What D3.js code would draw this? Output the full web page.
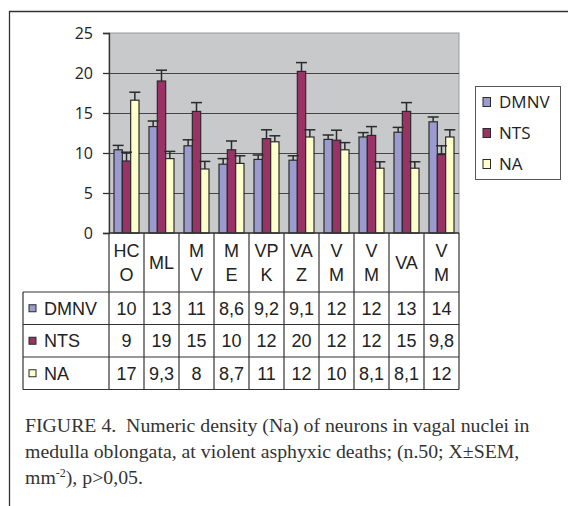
<!DOCTYPE html>
<html>
<head>
<meta charset="utf-8">
<script src="https://cdn.jsdelivr.net/npm/d3@7"></script>
<style>
  body { margin: 0; background: #fff; }
  svg { display: block; }
</style>
</head>
<body>
<svg id="chart" width="568" height="506"></svg>
<script>
// categories as printed in the table header (wrapped like the original)
var categories = ["HC\nO", "ML", "M\nV", "M\nE", "VP\nK", "VA\nZ", "V\nM", "V\nM", "VA", "V\nM"];
var seriesNames = ["DMNV", "NTS", "NA"];
var seriesColors = ["#9b9bd0", "#993366", "#ffffcc"];

// means
var dmnv = [10.4, 13.3, 10.9, 8.6, 9.2, 9.1, 11.7, 12.0, 12.6, 13.9];
var nts  = [9.0, 19.0, 15.2, 10.4, 11.8, 20.2, 11.6, 12.2, 15.2, 9.8];
var na   = [16.6, 9.3, 8.0, 8.7, 11.4, 12.0, 10.4, 8.1, 8.1, 12.0];

// SEM
var dmnvErr = [0.55, 0.7, 0.75, 0.7, 0.55, 0.55, 0.55, 0.55, 0.6, 0.6];
var ntsErr  = [1.1, 1.35, 1.1, 1.1, 1.1, 1.1, 1.25, 1.1, 1.1, 1.1];
var naErr   = [1.0, 0.9, 0.95, 0.95, 0.75, 0.9, 0.9, 0.8, 0.8, 0.9];

var yTicks = [0, 5, 10, 15, 20, 25];

var captionLines = [
  "FIGURE 4.  Numeric density (Na) of neurons in vagal nuclei in",
  "medulla oblongata, at violent asphyxic deaths; (n.50; X\u00b1SEM,"
];

var values = [dmnv, nts, na];
var errors = [dmnvErr, ntsErr, naErr];

var svg = d3.select("#chart");
var plot = { left: 109, right: 459, top: 33, bottom: 233 };

var x = d3.scaleBand()
  .domain(d3.range(categories.length))
  .range([plot.left, plot.right]);

var xSub = d3.scaleBand()
  .domain(d3.range(seriesNames.length))
  .range([0, x.bandwidth()])
  .paddingOuter(0.6);

var y = d3.scaleLinear()
  .domain([0, 25])
  .range([plot.bottom, plot.top]);

var fmt = d3.format(".2~r");
function label(v) { return fmt(v).replace(".", ","); }

// outer frame
svg.append("path")
  .attr("d", "M9.5,506 L9.5,11.5 L568,11.5")
  .attr("fill", "none")
  .attr("stroke", "#333")
  .attr("stroke-width", 1.3);

// plot background
svg.append("rect")
  .attr("x", plot.left).attr("y", plot.top)
  .attr("width", plot.right - plot.left)
  .attr("height", plot.bottom - plot.top)
  .attr("fill", "#c8c9cb")
  .attr("stroke", "#9a9a9a");

// gridlines
svg.append("g")
  .attr("transform", "translate(" + plot.left + ",0)")
  .call(d3.axisLeft(y).tickValues(yTicks.slice(1, -1)).tickSize(-(plot.right - plot.left)).tickFormat(""))
  .call(function(g) {
    g.select(".domain").remove();
    g.selectAll("line").attr("stroke", "#444").attr("stroke-width", 1.2);
  });

// y axis
svg.append("g")
  .attr("transform", "translate(" + plot.left + ",0)")
  .call(d3.axisLeft(y).tickValues(yTicks).tickSize(6).tickPadding(10))
  .call(function(g) {
    g.select(".domain").attr("stroke", "#333").attr("stroke-width", 1.3);
    g.selectAll("line").attr("stroke", "#333").attr("stroke-width", 1.3);
    g.selectAll("text")
      .attr("fill", "#222")
      .style("font-family", "'Open Sans', sans-serif")
      .style("font-size", "16px");
  });

// bars
var groups = svg.append("g").selectAll("g")
  .data(d3.range(categories.length))
  .join("g")
  .attr("transform", function(i) { return "translate(" + x(i) + ",0)"; });

function cells(i) {
  return seriesNames.map(function(s, k) { return { k: k, v: values[k][i], e: errors[k][i] }; });
}

groups.selectAll("rect")
  .data(cells)
  .join("rect")
  .attr("x", function(d) { return xSub(d.k); })
  .attr("y", function(d) { return y(d.v); })
  .attr("width", xSub.bandwidth())
  .attr("height", function(d) { return y(0) - y(d.v); })
  .attr("fill", function(d) { return seriesColors[d.k]; })
  .attr("stroke", "#2a2a2a")
  .attr("stroke-width", 1.2);

// error bars (upper half only)
var errG = groups.selectAll("g.err")
  .data(cells)
  .join("g")
  .attr("class", "err");

errG.append("line")
  .attr("x1", function(d) { return xSub(d.k) + xSub.bandwidth() / 2; })
  .attr("x2", function(d) { return xSub(d.k) + xSub.bandwidth() / 2; })
  .attr("y1", function(d) { return y(d.v); })
  .attr("y2", function(d) { return y(d.v + d.e); });

errG.append("line")
  .attr("x1", function(d) { return xSub(d.k) + xSub.bandwidth() / 2 - 5.5; })
  .attr("x2", function(d) { return xSub(d.k) + xSub.bandwidth() / 2 + 5.5; })
  .attr("y1", function(d) { return y(d.v + d.e); })
  .attr("y2", function(d) { return y(d.v + d.e); });

errG.selectAll("line").attr("stroke", "#2a2a2a").attr("stroke-width", 1.5);

// x axis line
svg.append("line")
  .attr("x1", plot.left).attr("x2", plot.right)
  .attr("y1", plot.bottom).attr("y2", plot.bottom)
  .attr("stroke", "#333").attr("stroke-width", 1.3);

// data table
var tbl = { left: 23, headBottom: 292, rowH: 32.5 };
var tg = svg.append("g").attr("stroke", "#333").attr("stroke-width", 1.2);

x.domain().concat([categories.length]).forEach(function(i) {
  var xx = i < categories.length ? x(i) : plot.right;
  tg.append("line")
    .attr("x1", xx).attr("x2", xx)
    .attr("y1", plot.bottom).attr("y2", tbl.headBottom + tbl.rowH * 3);
});
tg.append("line")
  .attr("x1", tbl.left).attr("x2", tbl.left)
  .attr("y1", tbl.headBottom).attr("y2", tbl.headBottom + tbl.rowH * 3);
d3.range(4).forEach(function(r) {
  var yy = tbl.headBottom + tbl.rowH * r;
  tg.append("line")
    .attr("x1", tbl.left).attr("x2", plot.right)
    .attr("y1", yy).attr("y2", yy);
});

var tableFont = "'Liberation Sans', Arial, sans-serif";

// header labels
svg.append("g").selectAll("text")
  .data(categories)
  .join("text")
  .attr("text-anchor", "middle")
  .attr("fill", "#222")
  .style("font-family", tableFont)
  .style("font-size", "18px")
  .each(function(c, i) {
    var lines = c.split("\n");
    var cy = (plot.bottom + tbl.headBottom) / 2;
    var t = d3.select(this);
    lines.forEach(function(l, j) {
      t.append("tspan")
        .attr("x", x(i) + x.bandwidth() / 2)
        .attr("y", cy + (j - (lines.length - 1) / 2) * 23.5)
        .attr("dy", "0.36em")
        .text(l);
    });
  });

// table rows
seriesNames.forEach(function(s, k) {
  var cy = tbl.headBottom + tbl.rowH * (k + 0.5);
  svg.append("rect")
    .attr("x", 29).attr("y", cy - 3.5)
    .attr("width", 7).attr("height", 7)
    .attr("fill", seriesColors[k])
    .attr("stroke", "#2a2a2a").attr("stroke-width", 1);
  svg.append("text")
    .attr("x", 44).attr("y", cy).attr("dy", "0.36em")
    .attr("fill", "#222")
    .style("font-family", tableFont)
    .style("font-size", "18px")
    .text(s);
  svg.append("g").selectAll("text")
    .data(values[k])
    .join("text")
    .attr("x", function(v, i) { return x(i) + x.bandwidth() / 2; })
    .attr("y", cy).attr("dy", "0.36em")
    .attr("text-anchor", "middle")
    .attr("fill", "#222")
    .style("font-family", tableFont)
    .style("font-size", "18px")
    .text(function(v) { return label(v); });
});

// legend
var lg = svg.append("g");
lg.append("rect")
  .attr("x", 475.5).attr("y", 86.5)
  .attr("width", 85).attr("height", 93)
  .attr("fill", "#fff")
  .attr("stroke", "#555").attr("stroke-width", 1);
seriesNames.forEach(function(s, k) {
  var cy = 102 + k * 31;
  lg.append("rect")
    .attr("x", 483).attr("y", cy - 4.5)
    .attr("width", 7.5).attr("height", 9)
    .attr("fill", seriesColors[k])
    .attr("stroke", "#2a2a2a").attr("stroke-width", 1);
  lg.append("text")
    .attr("x", 499).attr("y", cy).attr("dy", "0.36em")
    .attr("fill", "#222")
    .style("font-family", "'Open Sans', sans-serif")
    .style("font-size", "17px")
    .text(s);
});

// caption
var cap = svg.append("text")
  .attr("fill", "#333")
  .style("font-family", "'Liberation Serif', serif")
  .style("font-size", "19.8px")
  .style("white-space", "pre");
captionLines.forEach(function(l, j) {
  cap.append("tspan").attr("x", 25).attr("y", 432 + j * 26).text(l);
});
cap.append("tspan").attr("x", 25).attr("y", 484).text("mm");
cap.append("tspan").attr("dy", -7).style("font-size", "12px").text("-2");
cap.append("tspan").attr("dy", 7).text("), p>0,05.");
</script>
</body>
</html>
